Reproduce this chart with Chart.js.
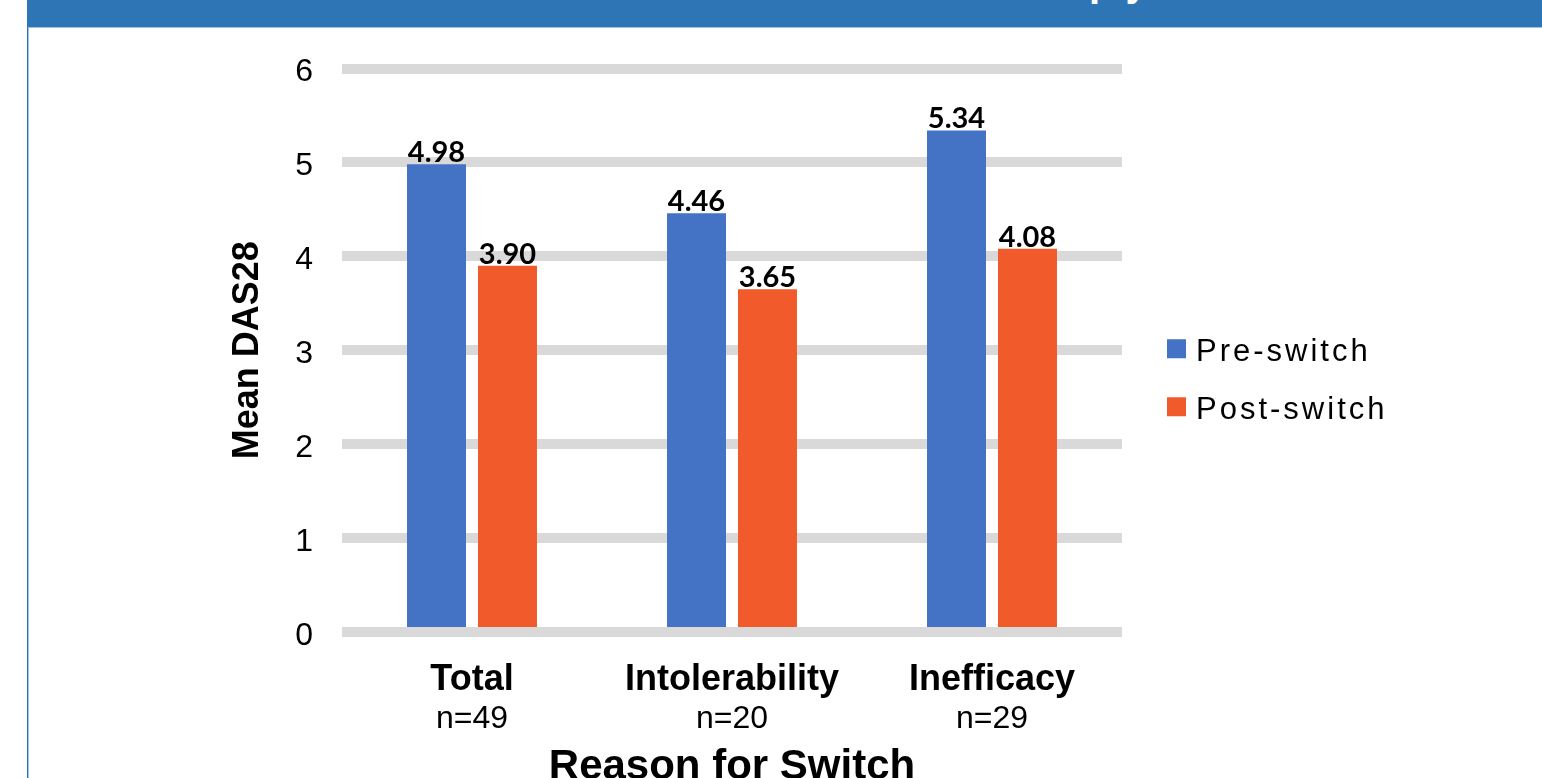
<!DOCTYPE html>
<html>
<head>
<meta charset="utf-8">
<script src="https://cdn.jsdelivr.net/npm/chart.js@4"></script>
<style>
html, body { margin: 0; padding: 0; background: #fff; overflow: hidden; }
#wrap { position: relative; width: 1542px; height: 778px; }
#head { position: absolute; left: 27px; top: 0; width: 1515px; height: 27px; background: #2E75B6; overflow: hidden; }
#head span { position: absolute; left: 1062px; top: -38px; font: bold 40px/40px "Liberation Sans", Arial, sans-serif; color: #fff; letter-spacing: 12px; white-space: nowrap; }
#headline { position: absolute; left: 27px; top: 27px; width: 1515px; height: 1px; background: #9DC3E6; }
#lb1 { position: absolute; left: 27px; top: 27px; width: 1px; height: 751px; background: #2E75B6; }
#lb2 { position: absolute; left: 28px; top: 28px; width: 1px; height: 750px; background: #9DC3E6; }
#chart { position: absolute; left: 0; top: 0; }
</style>
</head>
<body>
<div id="wrap">
  <div id="head"><span>py</span></div>
  <div id="headline"></div>
  <div id="lb1"></div>
  <div id="lb2"></div>
  <canvas id="chart" width="1542" height="778"></canvas>
</div>
<script>
// values
var categories = ["Total", "Intolerability", "Inefficacy"];
var sampleSizes = ["n=49", "n=20", "n=29"];
var preSwitch = [4.98, 4.46, 5.34];
var postSwitch = [3.90, 3.65, 4.08];
var seriesNames = ["Pre-switch", "Post-switch"];
var barColors = ["#4472C4", "#F15A2B"];

Chart.defaults.font.family = '"Liberation Sans", Arial, sans-serif';
Chart.defaults.color = "#000";

// numbers on top of the bars
var valueLabels = {
	id: "valueLabels",
	afterDatasetsDraw: function(chart) {
		var ctx = chart.ctx;
		ctx.save();
		ctx.font = 'bold 29px Lato, "Open Sans", sans-serif';
		ctx.fillStyle = "#000";
		ctx.textAlign = "center";
		ctx.textBaseline = "alphabetic";
		chart.data.datasets.forEach(function(ds, i) {
			chart.getDatasetMeta(i).data.forEach(function(bar, j) {
				ctx.fillText(ds.data[j].toFixed(2), bar.x, bar.y - 2);
			});
		});
		ctx.restore();
	}
};

// legend on the right side, squares + spaced text
var sideLegend = {
	id: "sideLegend",
	afterDraw: function(chart) {
		var ctx = chart.ctx;
		var area = chart.chartArea;
		var mid = (area.top + area.bottom) / 2;
		ctx.save();
		ctx.font = '31px "Liberation Sans", Arial, sans-serif';
		ctx.letterSpacing = "3px";
		ctx.textBaseline = "alphabetic";
		ctx.textAlign = "left";
		chart.data.datasets.forEach(function(ds, i) {
			var top = mid - 11 + i * 58;
			ctx.fillStyle = ds.backgroundColor;
			ctx.fillRect(area.right + 45, top, 19, 19);
			ctx.fillStyle = "#000";
			ctx.fillText(ds.label, area.right + 74, top + 22);
		});
		ctx.restore();
	}
};

new Chart(document.getElementById("chart"), {
	type: "bar",
	data: {
		labels: categories,
		datasets: [{
			label: seriesNames[0],
			data: preSwitch,
			backgroundColor: barColors[0],
			categoryPercentage: 0.546,
			barPercentage: 0.831
		}, {
			label: seriesNames[1],
			data: postSwitch,
			backgroundColor: barColors[1],
			categoryPercentage: 0.546,
			barPercentage: 0.831
		}]
	},
	options: {
		responsive: false,
		animation: false,
		devicePixelRatio: 1,
		layout: { padding: { left: 200, right: 420, top: 68.5, bottom: 0 } },
		plugins: {
			legend: { display: false },
			tooltip: { enabled: false }
		},
		scales: {
			y: {
				min: 0,
				max: 6,
				ticks: { stepSize: 1, padding: 29, labelOffset: 4, font: { size: 32 }, color: "#000" },
				grid: { color: "#D9D9D9", lineWidth: 10, drawTicks: false },
				border: { display: false },
				title: {
					display: true,
					text: "Mean DAS28",
					color: "#000",
					font: { size: 36, weight: "bold" },
					padding: { top: 26, bottom: 0 }
				},
				afterFit: function(s) { s.width = 142; }
			},
			x: {
				weight: 0,
				grid: { display: false, drawTicks: false },
				border: { display: false },
				ticks: { padding: 26, maxRotation: 0, minRotation: 0, autoSkip: false, font: { size: 36, weight: "bold" }, color: "#000" },
				afterFit: function(s) { s.height = 71; }
			},
			x2: {
				type: "category",
				position: "bottom",
				weight: 1,
				labels: sampleSizes,
				offset: true,
				grid: { display: false, drawTicks: false },
				border: { display: false },
				ticks: { padding: 0, maxRotation: 0, minRotation: 0, autoSkip: false, font: { size: 32, lineHeight: 1 }, color: "#000" },
				title: {
					display: true,
					text: "Reason for Switch",
					color: "#000",
					font: { size: 42, weight: "bold", lineHeight: 0.5 },
					padding: { top: 0, bottom: 0.5 }
				},
				afterFit: function(s) { s.height = 75; }
			}
		}
	},
	plugins: [valueLabels, sideLegend]
});
</script>
</body>
</html>
